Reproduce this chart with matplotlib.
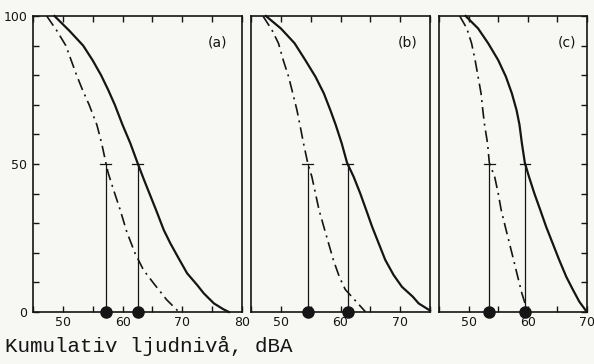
import numpy as np
import matplotlib.pyplot as plt
from matplotlib.ticker import MultipleLocator

# Kurvor avlästa från originalet (x = dBA, y = kumulativ procent)
panels = ['(a)', '(b)', '(c)']
x_max = [80, 75, 70]

solid_x = [
    [48.6, 51.1, 53.4, 55.0, 56.4, 57.6, 58.7, 60.0, 61.3, 62.5,
     63.6, 65.6, 66.9, 68.0, 69.4, 70.8, 72.5, 73.6, 75.3, 76.9, 77.8],
    [47.5, 50.0, 52.3, 54.1, 55.8, 57.2, 58.3, 59.2, 60.2, 61.1,
     62.2, 63.3, 64.3, 65.3, 66.4, 67.5, 68.9, 70.3, 72.1, 73.1, 75.0],
    [49.5, 51.6, 53.3, 55.0, 56.3, 57.3, 58.1, 58.6, 59.0, 59.5,
     60.2, 61.1, 62.1, 63.1, 64.2, 65.3, 66.5, 67.6, 68.7, 69.8],
]
solid_y = [
    [100, 95, 90, 85, 80, 75, 70, 63.2, 57.0, 50.4,
     44.6, 34.5, 27.7, 23.2, 18.1, 13.1, 9.1, 6.3, 2.9, 0.9, 0],
    [100, 95.8, 90.8, 85.1, 79.5, 73.9, 68.2, 63.2, 57.0, 50.4,
     45.7, 40.1, 34.5, 28.8, 23.2, 17.6, 12.5, 8.5, 5.2, 2.9, 0.5],
    [100, 95.8, 90.8, 85.1, 79.5, 73.9, 68.2, 63.2, 57.0, 50.4,
     45.7, 40.1, 34.5, 28.8, 23.2, 17.6, 11.9, 7.6, 3.5, 0.5],
]
dash_x = [
    [47.3, 49.0, 50.5, 51.4, 52.3, 53.3, 54.4, 55.7, 56.5, 57.2,
     57.6, 58.5, 59.6, 60.7, 62.1, 63.5, 65.2, 67.4, 69.1, 69.4],
    [47.0, 48.5, 49.6, 50.4, 51.3, 52.0, 52.7, 53.2, 53.8, 54.5,
     55.2, 55.8, 56.4, 57.2, 58.0, 58.8, 59.8, 60.8, 62.5, 63.9, 64.2],
    [48.5, 49.7, 50.5, 51.1, 51.6, 52.1, 52.4, 52.7, 53.2, 53.5,
     54.4, 55.0, 55.5, 56.2, 56.9, 57.6, 58.3, 59.0, 59.7, 59.9],
]
dash_y = [
    [100, 95, 90, 85, 80, 75, 70, 63.2, 57.0, 50.4,
     46.9, 41.2, 34.5, 27.1, 19.8, 14.2, 9.7, 4.1, 0.7, 0],
    [100, 95.3, 90.8, 85.1, 79.5, 73.9, 68.2, 63.2, 57.0, 50.4,
     45.7, 40.1, 34.5, 28.8, 23.2, 17.6, 11.9, 7.6, 3.8, 0.7, 0],
    [100, 95.8, 90.8, 85.1, 79.5, 73.9, 68.2, 63.2, 57.0, 50.4,
     45.7, 40.1, 34.5, 28.8, 23.2, 17.6, 11.9, 6.3, 1.8, 0],
]
# medianvärden (50 %)
median_dash = [57.2, 54.5, 53.5]
median_solid = [62.5, 61.2, 59.5]

bg = '#f7f7f4'
ink = '#151515'

fig = plt.figure(figsize=(5.94, 3.64), dpi=100, facecolor=bg)
bottom = 1 - 312 / 364
height = (312 - 16) / 364
lefts = [33 / 594, 251 / 594, 439 / 594]
widths = [209 / 594, 179 / 594, 148 / 594]

for i in range(3):
    ax = fig.add_axes([lefts[i], bottom, widths[i], height])
    ax.set_facecolor(bg)
    ax.set_xlim(45, x_max[i])
    ax.set_ylim(0, 100)

    ax.plot(solid_x[i], solid_y[i], color=ink, lw=1.6,
            solid_joinstyle='round', clip_on=False)
    ax.plot(dash_x[i], dash_y[i], color=ink, lw=1.2, dashes=(7, 3, 1.2, 3))

    for m in (median_dash[i], median_solid[i]):
        ax.plot([m, m], [0, 50], color=ink, lw=0.9)
        ax.plot([m - 0.9, m + 0.9], [50, 50], color=ink, lw=0.9)
        ax.plot([m], [0], 'o', color=ink, ms=8, clip_on=False, zorder=5)

    ax.text(0.93, 0.91, panels[i], transform=ax.transAxes, ha='right',
            va='center', fontsize=10, color=ink)

    for s in ax.spines.values():
        s.set_linewidth(1.2)
        s.set_color(ink)

    ax.xaxis.set_minor_locator(MultipleLocator(5))
    ax.set_xticks([t for t in range(50, x_max[i] + 1, 10)])
    ax.tick_params(axis='x', which='both', direction='in', top=True,
                   length=4, width=1, colors=ink, labelsize=9, pad=3)
    ax.yaxis.set_minor_locator(MultipleLocator(10))
    ax.set_yticks([0, 50, 100])
    if i == 0:
        ax.tick_params(axis='y', which='both', direction='in', left=True,
                       right=False, length=4, width=1, colors=ink,
                       labelsize=9, pad=4)
    elif i == 2:
        ax.tick_params(axis='y', which='both', direction='in', left=False,
                       right=True, labelleft=False, length=4, width=1,
                       colors=ink)
    else:
        ax.tick_params(axis='y', which='both', left=False, labelleft=False)

fig.text(5 / 594, 1 - 346 / 364, 'Kumulativ ljudnivå, dBA',
         family='Liberation Mono', fontsize=15, color=ink, va='center')

fig.savefig('out.png', dpi=100, facecolor=bg)
